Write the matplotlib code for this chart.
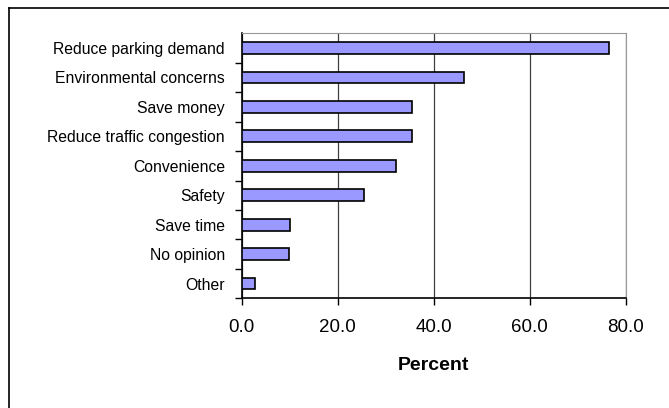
import matplotlib.pyplot as plt
from matplotlib.lines import Line2D

categories = ['Reduce parking demand', 'Environmental concerns', 'Save money',
              'Reduce traffic congestion', 'Convenience', 'Safety', 'Save time',
              'No opinion', 'Other']
values = [76.6, 46.4, 35.4, 35.4, 32.1, 25.5, 10.1, 9.8, 2.8]
xticks = [0, 20, 40, 60, 80]

plt.rcParams['font.family'] = ['Liberation Sans', 'DejaVu Sans']

fig = plt.figure(figsize=(6.69, 4.08), dpi=100)
ax = fig.add_axes([0.3613, 0.2689, 0.574, 0.6495])

n = len(categories)
pos = list(range(n))
ax.barh(pos, values, height=0.4, color='#9999FF', edgecolor='black', linewidth=1.2, zorder=3)
ax.set_ylim(n - 0.5, -0.5)
ax.set_xlim(0, 80)

# ticks between bars, labels at bar centers
ax.set_yticks([i + 0.5 for i in range(n)])
ax.set_yticklabels([])
ax.set_yticks(pos, minor=True)
ax.set_yticklabels(categories, minor=True, fontsize=11.3)
ax.tick_params(axis='y', which='major', length=5, width=1, direction='out')
ax.tick_params(axis='y', which='minor', length=0, pad=12)

ax.set_xticks(xticks)
ax.set_xticklabels([f'{v:.1f}' for v in xticks], fontsize=13.5)
ax.tick_params(axis='x', length=5, width=1, direction='out', pad=10)

ax.xaxis.grid(True, color='#404040', linewidth=0.9, zorder=0)
ax.set_axisbelow(True)

ax.spines['left'].set_linewidth(1.2)
ax.spines['bottom'].set_linewidth(1.2)
ax.spines['top'].set_color('#999999')
ax.spines['right'].set_color('#999999')

ax.set_xlabel('Percent', fontsize=14, fontweight='bold', labelpad=15)

# outer chart border (left and top edges visible)
fig.add_artist(Line2D([9 / 669, 9 / 669], [0, 1 - 8 / 408], transform=fig.transFigure,
                      color='black', linewidth=1.2))
fig.add_artist(Line2D([9 / 669, 1], [1 - 8 / 408, 1 - 8 / 408], transform=fig.transFigure,
                      color='black', linewidth=1.2))

fig.savefig('out.png', dpi=100)
